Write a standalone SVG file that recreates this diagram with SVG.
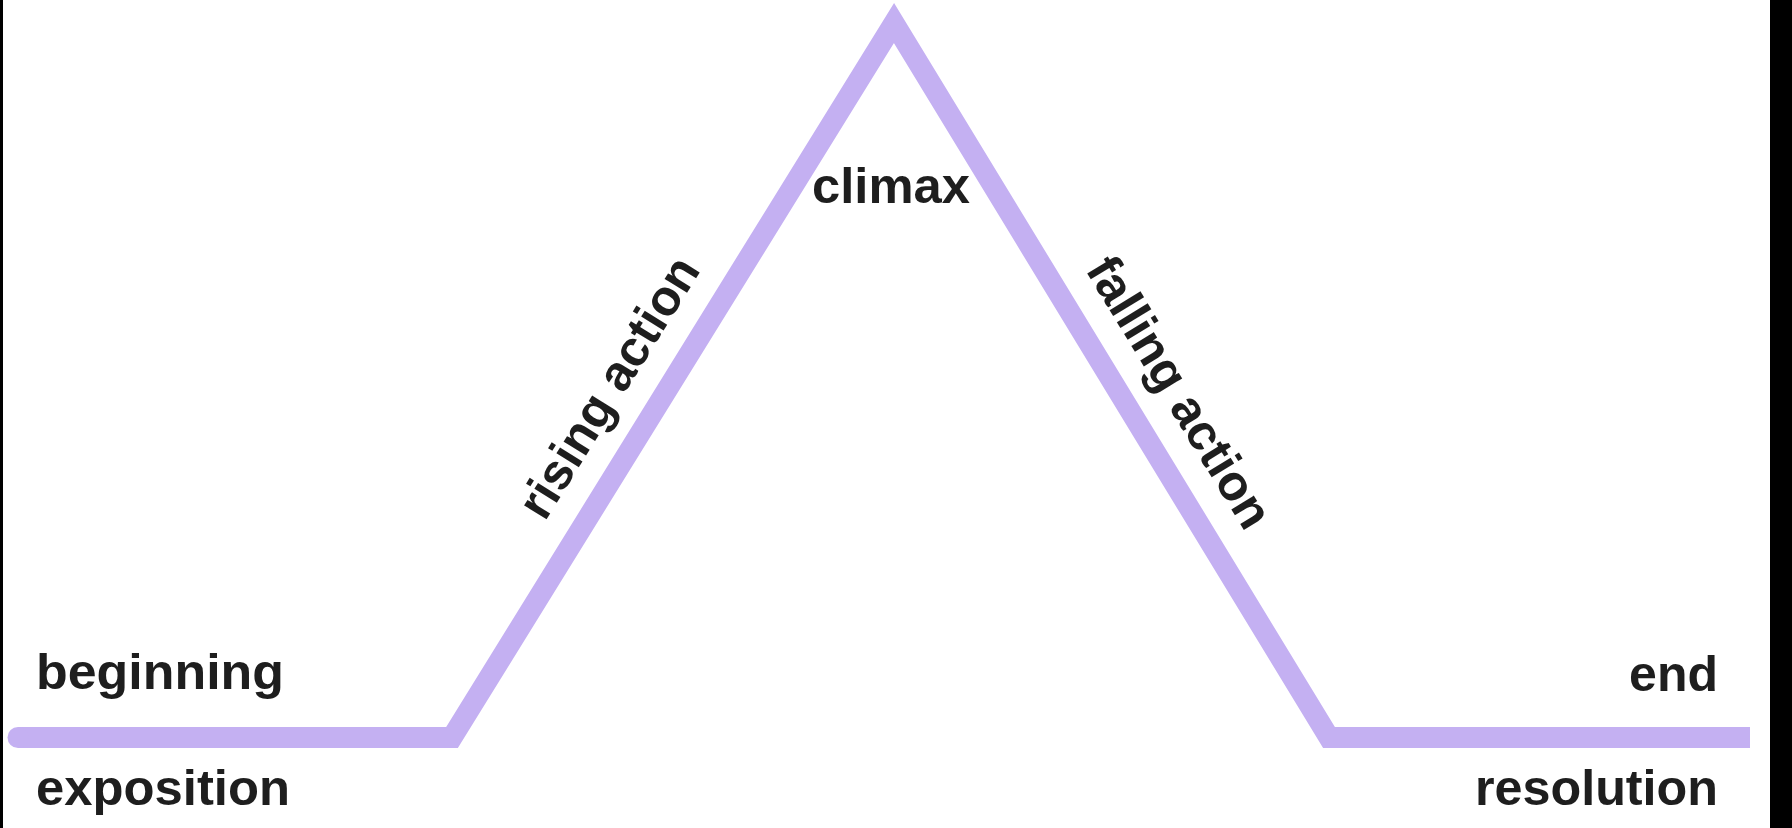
<svg xmlns="http://www.w3.org/2000/svg" width="1792" height="828" viewBox="0 0 1792 828">
<style>
.lbl{font-family:"Liberation Sans",Arial,sans-serif;font-weight:bold;font-size:50px;fill:#1e1e1e}
.arc{fill:none;stroke:#c4b0f2;stroke-width:21;stroke-linejoin:miter;stroke-miterlimit:10}
</style>
<rect x="0" y="0" width="1792" height="828" fill="#ffffff"/>
<rect x="0" y="0" width="3" height="828" fill="#000000"/>
<rect x="1770" y="0" width="22" height="828" fill="#000000"/>
<g id="connectors">
<path class="arc" d="M18 737.5 H452 L894 23 L1329 737.5 H1750"/>
<circle cx="18" cy="737.5" r="10.5" fill="#c4b0f2"/>
</g>
<g id="beginning"><text class="lbl" x="36" y="689" textLength="248" lengthAdjust="spacingAndGlyphs">beginning</text></g>
<g id="exposition"><text class="lbl" x="36" y="805" textLength="254" lengthAdjust="spacingAndGlyphs">exposition</text></g>
<g id="climax"><text class="lbl" x="812" y="203" textLength="158" lengthAdjust="spacingAndGlyphs">climax</text></g>
<g id="rising-action"><text class="lbl" text-anchor="middle" transform="translate(623 396) rotate(-58.2)">rising action</text></g>
<g id="falling-action"><text class="lbl" text-anchor="middle" transform="translate(1165 401) rotate(58.6)">falling action</text></g>
<g id="end"><text class="lbl" x="1718" y="691" text-anchor="end">end</text></g>
<g id="resolution"><text class="lbl" x="1718" y="805" text-anchor="end" textLength="243" lengthAdjust="spacingAndGlyphs">resolution</text></g>
</svg>
